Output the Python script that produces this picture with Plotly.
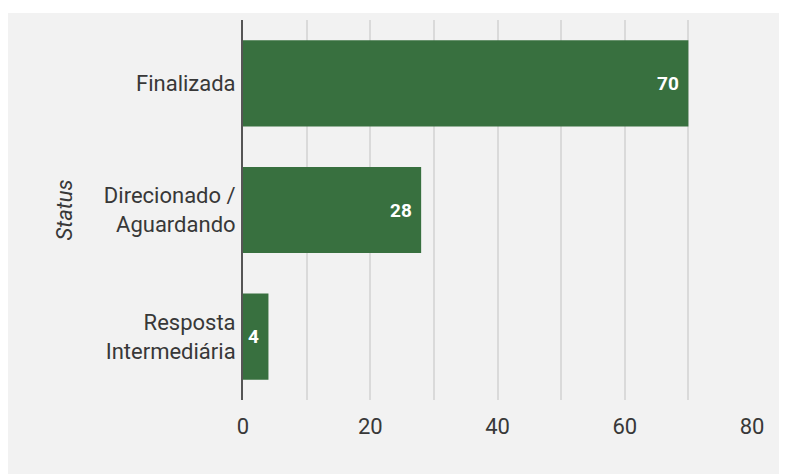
import plotly.graph_objects as go

categories = ["Finalizada", "Direcionado /<br>Aguardando", "Resposta<br>Intermediária"]
values = [70, 28, 4]
axis_title = "Status"
x_ticks = [0, 20, 40, 60, 80]

BAR = "#38703F"
BG = "#F2F2F2"

fig = go.Figure(
    go.Bar(
        y=categories,
        x=values,
        orientation="h",
        marker=dict(color=BAR, line=dict(width=0)),
        hoverinfo="skip",
    )
)

# value labels, inside the bar end
for c, v in zip(categories, values):
    fig.add_annotation(
        x=v, y=c, xref="x", yref="y", text=str(v), showarrow=False,
        xanchor="right", yanchor="middle", xshift=-7,
        font=dict(family="Roboto", size=19, color="white", weight="bold"),
    )

W, H = 779, 466
ml, mr, mt, mb = 235, 35, 12, 74
pw, ph = W - ml - mr, H - mt - mb

# grey panel (white strip on top like the reference)
fig.add_shape(
    type="rect", xref="paper", yref="paper", layer="below",
    x0=-ml / pw, x1=(W - ml) / pw,
    y0=-mb / ph, y1=1 + (mt - 5) / ph,
    fillcolor=BG, line=dict(width=0),
)

fig.update_layout(
    width=W, height=H,
    margin=dict(l=ml, r=mr, t=mt, b=mb, pad=0),
    paper_bgcolor="white",
    plot_bgcolor=BG,
    font=dict(family="Roboto", size=22, color="#383838"),
    bargap=0.32,
    showlegend=False,
    xaxis=dict(
        range=[0, 80],
        tickvals=x_ticks,
        showgrid=True, gridcolor="#DADADA", gridwidth=2,
        minor=dict(dtick=10, showgrid=True, gridcolor="#DADADA", gridwidth=2),
        zeroline=False,
        showline=False,
        ticks="",
        ticklabelstandoff=11,
        tickfont=dict(size=22, color="#383838"),
        fixedrange=True,
    ),
    yaxis=dict(
        autorange="reversed",
        showgrid=False,
        showline=True, linecolor="#555555", linewidth=2,
        ticks="",
        ticklabelstandoff=1,
        tickfont=dict(size=22, color="#383838"),
        title=dict(text="<i>" + axis_title + "</i>", standoff=25,
                   font=dict(size=22, color="#383838")),
        fixedrange=True,
    ),
)

fig.write_html("out.html")
